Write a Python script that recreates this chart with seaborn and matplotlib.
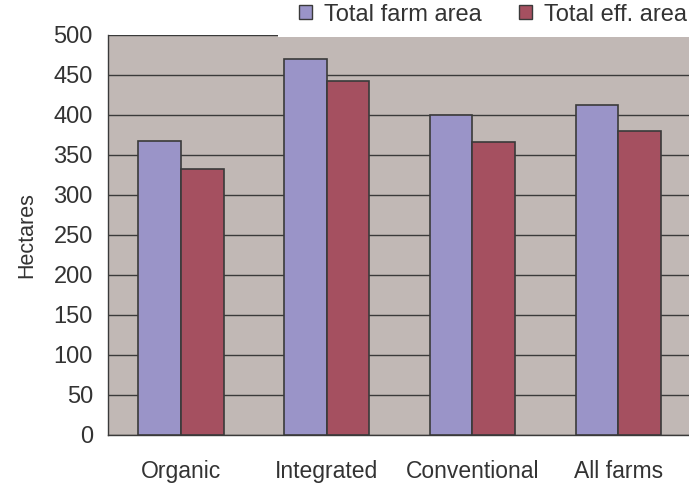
import matplotlib
matplotlib.use("Agg")
from matplotlib import pyplot as plt
from matplotlib.patches import Rectangle
import seaborn as sns
import pandas as pd
import numpy as np

categories = ["Organic", "Integrated", "Conventional", "All farms"]
series = ["Total farm area", "Total eff. area"]
farm_area = [368, 470, 400, 413]
eff_area = [333, 443, 366, 380]
yticks = [0, 50, 100, 150, 200, 250, 300, 350, 400, 450, 500]

colors = ["#9A94C8", "#A55060"]
bg = "#C1B8B5"
dark = "#3A3A3A"

df = pd.DataFrame({
    "category": categories * 2,
    "series": [series[0]] * 4 + [series[1]] * 4,
    "value": farm_area + eff_area,
})

sns.set_style("white")
plt.rcParams["font.family"] = ["Liberation Sans", "DejaVu Sans"]

fig = plt.figure(figsize=(6.89, 4.86), dpi=100)
ax = fig.add_axes([0.157, 0.105, 0.846, 0.823])
ax.set_facecolor(bg)

sns.barplot(data=df, x="category", y="value", hue="series", order=categories,
            hue_order=series, palette=colors, width=0.585, saturation=1,
            edgecolor=dark, linewidth=1.2, ax=ax, zorder=3)

ax.set_ylim(0, 500)
ax.set_xlim(-0.5, 3.5)
ax.set_yticks(yticks)
ax.yaxis.grid(True, color=dark, linewidth=1.0, zorder=0)
ax.set_axisbelow(True)

ax.tick_params(axis="y", length=8, width=1, color=dark, labelsize=17, labelcolor="#333333", pad=3)
ax.set_xticks(range(4))
ax.set_xticklabels(categories)
ax.tick_params(axis="x", which="major", length=0, labelsize=16.5, labelcolor="#333333", pad=18)
ax.set_xticks([-0.5, 0.5, 1.5, 2.5, 3.5], minor=True)
ax.tick_params(axis="x", which="minor", length=8, width=1, color=dark)

for s in ["top", "right"]:
    ax.spines[s].set_visible(False)
for s in ["left", "bottom"]:
    ax.spines[s].set_color(dark)
    ax.spines[s].set_linewidth(1.0)

ax.set_xlabel("")
ax.set_ylabel("Hectares", fontsize=15.5, color="#333333", labelpad=12)

# white strip of the legend area covering the top gridline on the right
ax.add_patch(Rectangle((0.2916, 0.996), 0.75, 0.2, transform=ax.transAxes,
                       facecolor="white", edgecolor="none", clip_on=False, zorder=10))

ax.get_legend().remove()
handles = [Rectangle((0, 0), 1, 1, facecolor=c, edgecolor=dark, linewidth=1.0) for c in colors]
leg = fig.legend(handles, series, loc="center right", bbox_to_anchor=(0.997, 0.97), ncol=2,
                 frameon=False, fontsize=17, handlelength=0.55, handleheight=0.55,
                 handletextpad=0.5, columnspacing=1.6, borderaxespad=0, borderpad=0)
for t in leg.get_texts():
    t.set_color("#333333")

fig.savefig("out.png", dpi=100, facecolor="white")
